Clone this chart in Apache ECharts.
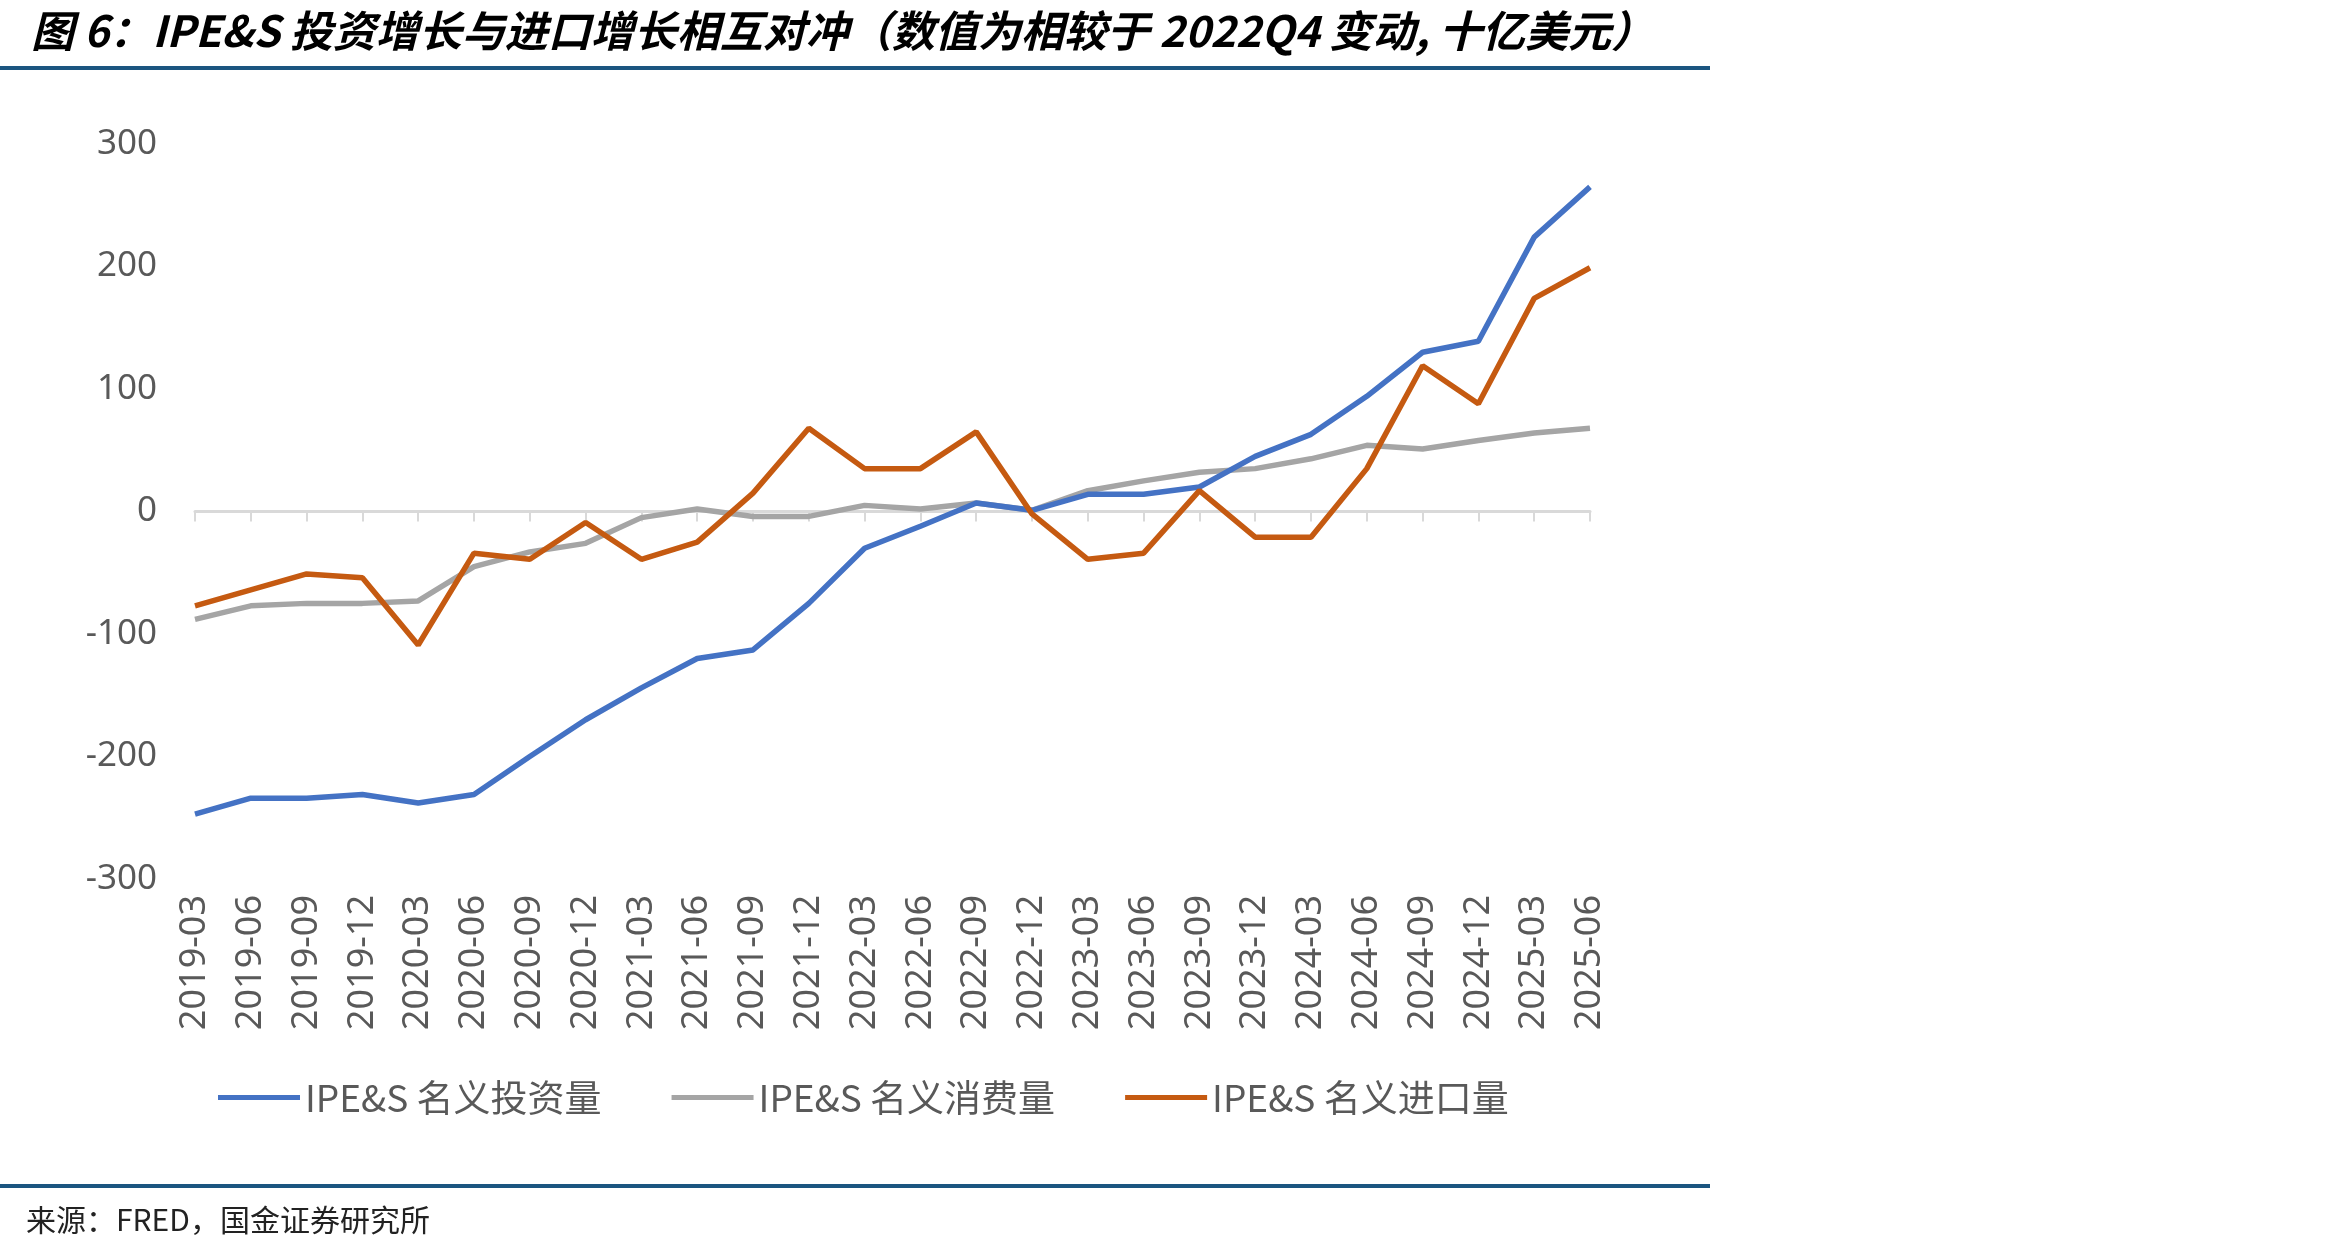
<!DOCTYPE html>
<html>
<head>
<meta charset="utf-8">
<script src="https://cdn.jsdelivr.net/npm/echarts@6/dist/echarts.min.js"></script>
<style>
  html, body { margin: 0; padding: 0; background: #fff; }
  #main { width: 2327px; height: 1254px; }
</style>
</head>
<body>
<div id="main"></div>
<script>
// IPE&S 投资 / 消费 / 进口 相较 2022Q4 变动（十亿美元）

var quarters = ['2019-03', '2019-06', '2019-09', '2019-12', '2020-03', '2020-06', '2020-09', '2020-12',
    '2021-03', '2021-06', '2021-09', '2021-12', '2022-03', '2022-06', '2022-09', '2022-12',
    '2023-03', '2023-06', '2023-09', '2023-12', '2024-03', '2024-06', '2024-09', '2024-12',
    '2025-03', '2025-06'];

var investment = [-247, -234, -234, -231, -238, -231, -200, -170, -144, -120, -113, -75, -30,
    -12, 7, 1, 14, 14, 20, 45, 63, 94, 130, 139, 224, 265];

var consumption = [-88, -77, -75, -75, -73, -45, -33, -26, -5, 2, -4, -4, 5, 2, 7, 1, 17, 25,
    32, 35, 43, 54, 51, 58, 64, 68];

var imports = [-77, -64, -51, -54, -109, -34, -39, -9, -39, -25, 15, 68, 35, 35, 65, -2, -39,
    -34, 17, -21, -21, 35, 119, 88, 174, 199];

var seriesNames = ['IPE&S 名义投资量', 'IPE&S 名义消费量', 'IPE&S 名义进口量'];
var seriesColors = ['#4472C4', '#A5A5A5', '#C55A11'];

var myChart = echarts.init(document.getElementById('main'));

function makeLine(i, data) {
    return {
        name: seriesNames[i],
        type: 'line',
        xAxisIndex: 0,
        data: data,
        symbol: 'none',
        smooth: false,
        lineStyle: { color: seriesColors[i], width: 5.5 },
        itemStyle: { color: seriesColors[i] },
        z: i === 1 ? 2 : 3
    };
}

var option = {
    backgroundColor: '#fff',
    animation: false,
    title: {
        text: '图 6：IPE&S 投资增长与进口增长相互对冲（数值为相较于 2022Q4 变动, 十亿美元）',
        left: 26,
        top: 4,
        textStyle: {
            fontFamily: 'Noto Sans CJK SC',
            fontWeight: 'bold',
            fontStyle: 'italic',
            fontSize: 43,
            color: '#000'
        }
    },
    graphic: [
        { type: 'rect', shape: { x: 0, y: 66, width: 1710, height: 4 }, style: { fill: '#1B5580' } },
        { type: 'rect', shape: { x: 0, y: 1184, width: 1710, height: 4 }, style: { fill: '#1B5580' } },
        {
            type: 'text', left: 26, top: 1205,
            style: { text: '来源：FRED，国金证券研究所', font: '30px "Noto Sans CJK SC"', fill: '#222' }
        }
    ],
    legend: {
        data: seriesNames,
        left: 213,
        top: 1074,
        icon: 'rect',
        itemWidth: 82,
        itemHeight: 5,
        itemGap: 70,
        textStyle: { fontFamily: 'Noto Sans CJK SC', fontSize: 37, color: '#595959' }
    },
    grid: { left: 195, right: 737, top: 144, bottom: 375, containLabel: false },
    xAxis: [{
        type: 'category',
        data: quarters,
        boundaryGap: false,
        position: 'bottom',
        axisLine: { show: false, onZero: false },
        axisTick: { show: false },
        axisLabel: {
            rotate: 90,
            margin: 16,
            interval: 0,
            fontFamily: 'Noto Sans',
            fontSize: 36,
            color: '#595959'
        },
        splitLine: { show: false }
    }, {
        type: 'category',
        data: quarters,
        boundaryGap: false,
        position: 'bottom',
        axisLine: { show: true, onZero: true, lineStyle: { color: '#D9D9D9', width: 3 } },
        axisTick: { show: true, inside: false, length: 10, interval: 0, lineStyle: { color: '#D9D9D9', width: 2 } },
        axisLabel: { show: false },
        splitLine: { show: false }
    }],
    yAxis: {
        type: 'value',
        min: -300,
        max: 300,
        interval: 100,
        axisLine: { show: false },
        axisTick: { show: false },
        splitLine: { show: false },
        axisLabel: {
            margin: 38,
            fontFamily: 'Noto Sans',
            fontSize: 35,
            color: '#595959'
        }
    },
    series: [
        makeLine(0, investment),
        makeLine(1, consumption),
        makeLine(2, imports)
    ]
};

myChart.setOption(option);
</script>
</body>
</html>
